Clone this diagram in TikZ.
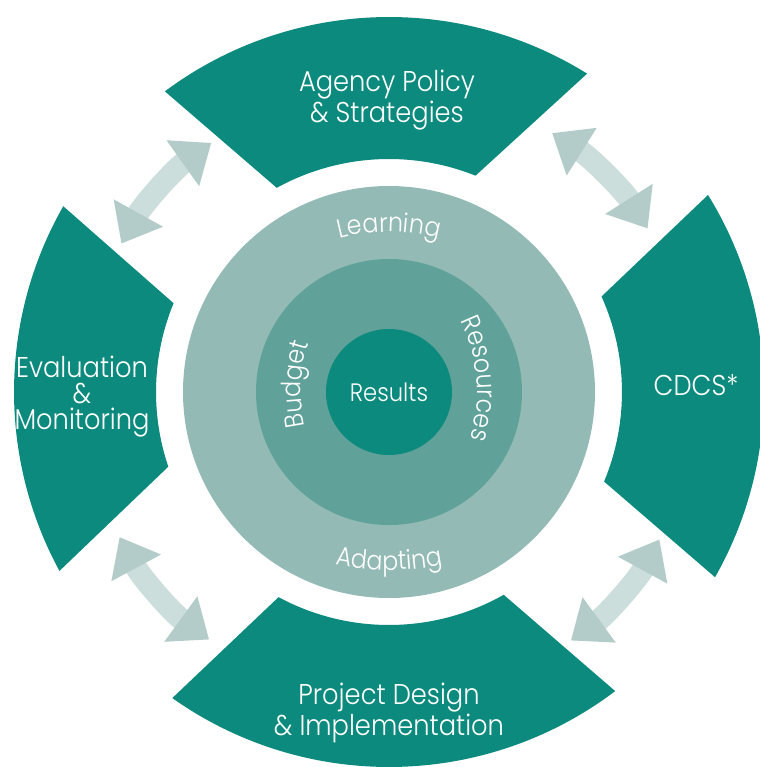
\documentclass[tikz,border=0pt]{standalone}
\usepackage{fontspec}
\IfFontExistsTF{Poppins Light}{\setmainfont{Poppins Light}[FakeStretch=0.9]}{\setmainfont{Poppins}[FakeStretch=0.9]}
\usetikzlibrary{arrows.meta,decorations.text}

\definecolor{segteal}{RGB}{12,138,126}
\definecolor{ringlight}{RGB}{147,186,181}
\definecolor{ringmid}{RGB}{96,162,154}
\definecolor{shaftgrey}{RGB}{204,222,220}
\definecolor{headgrey}{RGB}{179,204,201}

\newcommand{\lblfont}{\fontsize{14.3}{13}\selectfont}
\newcommand{\ringfont}{\fontsize{13.2}{13}\selectfont}

\tikzset{
	segment/.style={fill=segteal},
	seglabel/.style={text=white, align=center, font=\lblfont, inner sep=0pt},
	twoway/.style={draw=shaftgrey, line width=11pt,
		{Triangle[width=27pt,length=17.5pt,color=headgrey]}-{Triangle[width=27pt,length=17.5pt,color=headgrey]}},
	ringtext/.style={decorate, decoration={text along path, text align=center,
		text={|\ringfont\color{white}|#1}}},
}

\begin{document}
\begin{tikzpicture}[x=0.5pt,y=0.5pt]
		\useasboundingbox (-389,-375) rectangle (371,392);
		\coordinate (c) at (0,0);
		
		\fill[segment] (58.1:375) arc[start angle=58.1,end angle=126.7,radius=375]
			-- (118.8:233) arc[start angle=118.8,end angle=68.2,radius=233] -- cycle;
		\fill[segment] (150.3:375) arc[start angle=150.3,end angle=208.5,radius=375]
			-- (198.7:233) arc[start angle=198.7,end angle=157.6,radius=233] -- cycle;
		\fill[segment] (234.7:375) arc[start angle=234.7,end angle=307.1,radius=375]
			-- (299.5:233) arc[start angle=299.5,end angle=241.7,radius=233] -- cycle;
		\fill[segment] (-29.6:375) arc[start angle=-29.6,end angle=31.7,radius=375]
			-- (24.2:233) arc[start angle=24.2,end angle=-22.6,radius=233] -- cycle;
		
		\fill[ringlight] (c) circle[radius=206];
		\fill[ringmid] (c) circle[radius=133];
		\fill[segteal] (c) circle[radius=63];
		
		\path[shift={(0,-38)}, ringtext=Learning] (112:198) arc[start angle=112,end angle=68,radius=198];
		\path[shift={(0,102)}, ringtext=Adapting] (255:280) arc[start angle=255,end angle=285,radius=280];
		\path[shift={(75,0)}, ringtext=Budget] (205:163) arc[start angle=205,end angle=150,radius=163];
		\path[shift={(-75,0)}, ringtext=Resources] (36:163) arc[start angle=36,end angle=-27,radius=163];
		
		\node[seglabel, font=\fontsize{12.6}{13}\selectfont] (results) at (0,0) {Results};
		\node[seglabel] (agency) at (-2,292) {Agency Policy\\\& Strategies};
		\node[seglabel] (evalmon) at (-307,-5) {Evaluation\\\&\\Monitoring};
		\node[seglabel] (cdcs) at (307,7) {CDCS*};
		\node[seglabel] (project) at (0,-321) {Project Design\\\& Implementation};
		
		\foreach \a/\b/\r/\n in {125.5/151/306/tl, 32.3/57.8/306/tr, 208.3/234/306/bl, -53.8/-28.6/308/br} {
			\coordinate (\n1) at (\a:\r);
			\draw[twoway] (\n1) arc[start angle=\a,end angle=\b,radius=\r];
		}
	\end{tikzpicture}
\end{document}
